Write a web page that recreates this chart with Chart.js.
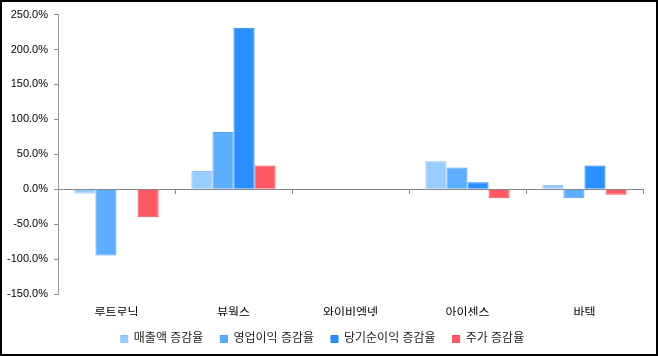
<!DOCTYPE html>
<html><head><meta charset="utf-8">
<script src="https://cdn.jsdelivr.net/npm/chart.js@4/dist/chart.umd.min.js"></script>
<style>
html,body{margin:0;padding:0;background:#fff;}
#wrap{width:658px;height:356px;box-sizing:border-box;border:2px solid #000;background:#fff;}
canvas{display:block;}
</style></head><body>
<div id="wrap"><canvas id="c" width="654" height="352"></canvas></div>
<script>
const categories = ['루트로닉', '뷰웍스', '와이비엠넷', '아이센스', '바텍'];
const seriesNames = ['매출액 증감율', '영업이익 증감율', '당기순이익 증감율', '주가 증감율'];
const salesGrowth = [-6, 26, null, 40, 6];
const opProfitGrowth = [-95, 82, null, 31, -13];
const netProfitGrowth = [null, 231, null, 10, 34];
const stockGrowth = [-40, 34, null, -13, -8];
const yTicks = [250, 200, 150, 100, 50, 0, -50, -100, -150];

const FONT = "'Liberation Sans', 'Noto Sans CJK KR', sans-serif";
const colors = ['#99CCFF', '#5EAEFF', '#2B8FFF', '#FF5A64'];
const borders = ['#8CC2F8', '#4F9FF5', '#1A80F0', '#F04E58'];
const seriesData = [salesGrowth, opProfitGrowth, netProfitGrowth, stockGrowth];

new Chart(document.getElementById('c'), {
  type: 'bar',
  data: {
    labels: categories,
    datasets: seriesNames.map((n, i) => ({
      label: n, data: seriesData[i],
      backgroundColor: colors[i], borderColor: borders[i], borderWidth: 1,
      categoryPercentage: 0.72, barPercentage: 1.0
    }))
  },
  options: {
    responsive: false, animation: false,
    layout: { padding: { left: 0, right: 13, top: 7, bottom: -1 } },
    plugins: {
      tooltip: { enabled: false },
      legend: {
        position: 'bottom',
        labels: { boxWidth: 7, boxHeight: 7, padding: 17, color: '#222', font: { family: FONT, size: 12 } }
      }
    },
    scales: {
      x: {
        offset: true,
        grid: { display: false, offset: true },
        border: { display: false },
        ticks: { color: '#000', font: { family: FONT, size: 12 }, padding: 4 },
        afterFit: (s) => { s.height = 22; }
      },
      xz: {
        type: 'category', labels: categories, position: { y: 0 },
        offset: true,
        grid: { display: true, offset: true, drawOnChartArea: false, drawTicks: true, tickLength: 4, color: '#888' },
        border: { display: true, color: '#888', width: 1 },
        ticks: { display: false }
      },
      y: {
        min: -150, max: 250,
        afterBuildTicks: (s) => { s.ticks = yTicks.map(v => ({ value: v })); },
        afterFit: (s) => { s.width = 56; },
        grid: { display: true, drawOnChartArea: false, tickLength: 4, tickColor: '#888' },
        border: { display: true, color: '#999', width: 1 },
        ticks: { color: '#000', font: { family: FONT, size: 11 }, padding: 6,
          callback: (v) => v.toFixed(1) + '%' }
      }
    }
  }
});
</script>
</body></html>
